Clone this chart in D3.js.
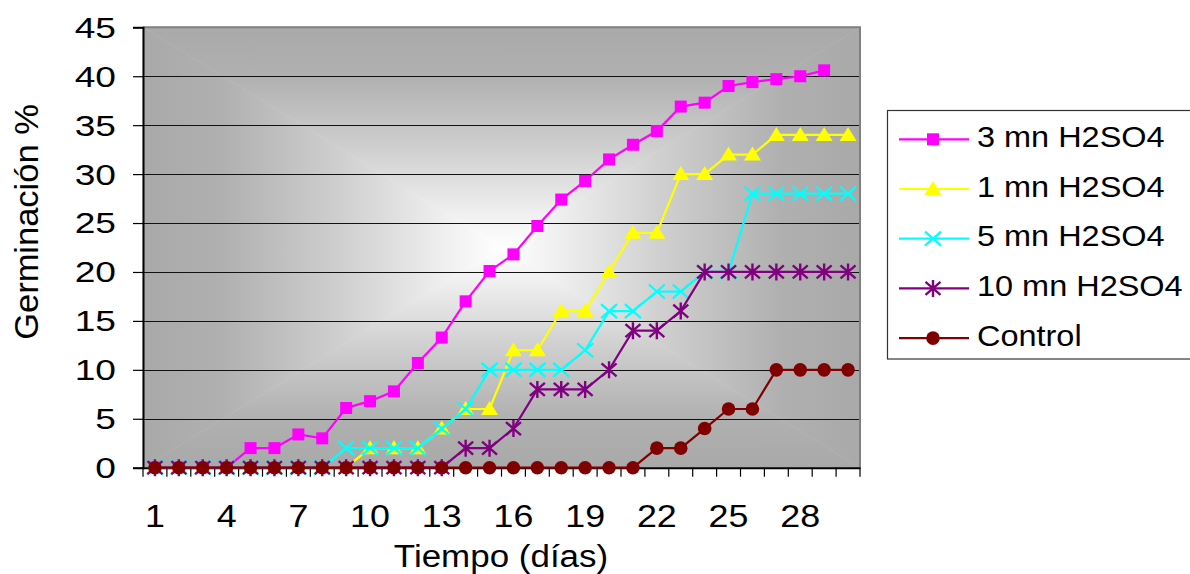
<!DOCTYPE html>
<html>
<head>
<meta charset="utf-8">
<script src="https://cdn.jsdelivr.net/npm/d3@7"></script>
<style>
  html, body { margin: 0; padding: 0; background: #ffffff; }
  svg { display: block; font-family: "Liberation Sans", Arial, sans-serif; }
</style>
</head>
<body>
<svg id="chart" width="1190" height="574"></svg>
<script>
// Germination (%) over time (days) for seeds treated with H2SO4
const days = [1,2,3,4,5,6,7,8,9,10,11,12,13,14,15,16,17,18,19,20,21,22,23,24,25,26,27,28,29,30];
const xTickLabels = [1,4,7,10,13,16,19,22,25,28];
const yTicks = [0,5,10,15,20,25,30,35,40,45];

const h2so4_3mn  = [0,0,0,0,2,2,3.4,3,6.1,6.8,7.8,10.7,13.3,17,20.1,21.8,24.7,27.4,29.3,31.5,33,34.4,36.9,37.3,39,39.4,39.7,40,40.6];
const h2so4_1mn  = [0,0,0,0,0,0,0,0,0,2,2,2,4,6,6,12,12,16,16,20,24,24,30,30,32,32,34,34,34,34];
const h2so4_5mn  = [0,0,0,0,0,0,0,0,2,2,2,2,4,6,10,10,10,10,12,16,16,18,18,20,20,28,28,28,28,28];
const h2so4_10mn = [0,0,0,0,0,0,0,0,0,0,0,0,0,2,2,4,8,8,8,10,14,14,16,20,20,20,20,20,20,20];
const control    = [0,0,0,0,0,0,0,0,0,0,0,0,0,0,0,0,0,0,0,0,0,2,2,4,6,6,10,10,10,10];

const seriesNames = ["3 mn H2SO4", "1 mn H2SO4", "5 mn H2SO4", "10 mn H2SO4", "Control"];
const seriesValues = [h2so4_3mn, h2so4_1mn, h2so4_5mn, h2so4_10mn, control];
const seriesColors = ["#ff00ff", "#ffff00", "#00ffff", "#800080", "#800000"];
const seriesMarkers = ["square", "triangle", "cross", "star", "circle"];

const svg = d3.select("#chart");
const plot = { left: 143, right: 860, top: 27.3, bottom: 467.7 };

const x = d3.scaleBand().domain(days).range([plot.left, plot.right]).paddingInner(0).paddingOuter(0);
const xc = d => x(d) + x.bandwidth() / 2;
const y = d3.scaleLinear().domain([0, 45]).range([plot.bottom, plot.top]);

// --- plot background: rectangular "from centre" gradient built from four triangles
const defs = svg.append("defs");
const cx = (plot.left + plot.right) / 2, cy = (plot.top + plot.bottom) / 2;
const stops = [[0, "#a9a9a9"], [0.22, "#b0b0b0"], [0.55, "#cfcfcf"], [0.85, "#f0f0f0"], [1, "#ffffff"]];
function grad(id, x1, y1, x2, y2) {
  const g = defs.append("linearGradient").attr("id", id)
    .attr("gradientUnits", "userSpaceOnUse")
    .attr("x1", x1).attr("y1", y1).attr("x2", x2).attr("y2", y2);
  stops.forEach(s => g.append("stop").attr("offset", s[0]).attr("stop-color", s[1]));
}
grad("gTop", cx, plot.top, cx, cy);
grad("gBottom", cx, plot.bottom, cx, cy);
grad("gLeft", plot.left, cy, cx, cy);
grad("gRight", plot.right, cy, cx, cy);
const L = plot.left, R = plot.right, T = plot.top, B = plot.bottom;
const bg = svg.append("g");
bg.append("path").attr("d", `M${L},${T}L${R},${T}L${cx},${cy}Z`).attr("fill", "url(#gTop)").attr("stroke", "url(#gTop)").attr("stroke-width", 0.6);
bg.append("path").attr("d", `M${L},${B}L${R},${B}L${cx},${cy}Z`).attr("fill", "url(#gBottom)").attr("stroke", "url(#gBottom)").attr("stroke-width", 0.6);
bg.append("path").attr("d", `M${L},${T}L${L},${B}L${cx},${cy}Z`).attr("fill", "url(#gLeft)").attr("stroke", "url(#gLeft)").attr("stroke-width", 0.6);
bg.append("path").attr("d", `M${R},${T}L${R},${B}L${cx},${cy}Z`).attr("fill", "url(#gRight)").attr("stroke", "url(#gRight)").attr("stroke-width", 0.6);

// horizontal gridlines
svg.append("g").selectAll("line").data(yTicks.filter(v => v > 0 && v < 45)).join("line")
  .attr("x1", L).attr("x2", R)
  .attr("y1", d => Math.round(y(d)) + 0.5).attr("y2", d => Math.round(y(d)) + 0.5)
  .attr("stroke", "#111").attr("stroke-width", 1);

// plot border (top/right) in gray
svg.append("path").attr("d", `M${L},${T}L${R},${T}L${R},${B}`)
  .attr("fill", "none").attr("stroke", "#808080").attr("stroke-width", 2);

// --- axes
const yAxis = d3.axisLeft(y).tickValues(yTicks).tickSize(10).tickFormat("");
svg.append("g").attr("transform", `translate(${L},0)`).call(yAxis)
  .call(g => g.select(".domain").attr("stroke", "#000").attr("stroke-width", 2))
  .call(g => g.selectAll(".tick line").attr("stroke", "#000").attr("stroke-width", 1.2));

const xAxis = d3.axisBottom(x).tickSize(0).tickFormat("");
svg.append("g").attr("transform", `translate(0,${B})`).call(xAxis)
  .call(g => g.select(".domain").attr("stroke", "#000").attr("stroke-width", 2));
// tick marks at the boundaries between days
const bounds = days.map(d => x(d)).concat([R]);
svg.append("g").selectAll("line").data(bounds).join("line")
  .attr("x1", d => d).attr("x2", d => d).attr("y1", B).attr("y2", B + 9)
  .attr("stroke", "#000").attr("stroke-width", 1.2);

// stretched text helper
function stext(parent, str, px, py, size, sx, anchor, rot) {
  return parent.append("text")
    .attr("transform", `translate(${px},${py}) scale(${sx},1)` + (rot ? ` rotate(${rot})` : ""))
    .attr("font-size", size).attr("text-anchor", anchor).attr("fill", "#000").text(str);
}

// y tick labels
const yl = svg.append("g");
yTicks.forEach(v => stext(yl, String(v), 116, y(v) + 10.4, 29, 1.28, "end"));

// x tick labels
const xl = svg.append("g");
xTickLabels.forEach(d => stext(xl, String(d), xc(d), 527, 32, 1.12, "middle"));

// axis titles
stext(svg, "Tiempo (días)", 501, 567, 31.5, 1.11, "middle");
stext(svg, "Germinación %", 37.5, 222, 34.5, 0.95, "middle", -90);

// --- markers
function marker(g, type, color) {
  switch (type) {
    case "square":
      g.append("rect").attr("x", -6).attr("y", -6).attr("width", 12).attr("height", 12).attr("fill", color);
      break;
    case "triangle":
      g.append("path").attr("d", "M0,-8L8.5,6L-8.5,6Z").attr("fill", color);
      break;
    case "cross":
      g.append("path").attr("d", "M-8,-7L8,7M-8,7L8,-7").attr("stroke", color).attr("stroke-width", 2.2).attr("fill", "none");
      break;
    case "star":
      g.append("path").attr("d", "M-7.5,-6.5L7.5,6.5M-7.5,6.5L7.5,-6.5M0,-8.5L0,8.5").attr("stroke", color).attr("stroke-width", 2.4).attr("fill", "none");
      break;
    case "circle":
      g.append("circle").attr("r", 6.8).attr("fill", color);
      break;
  }
}

// --- series
const line = d3.line().x((v, i) => xc(days[i])).y(v => y(v));
seriesValues.forEach((vals, si) => {
  const g = svg.append("g");
  g.append("path").attr("d", line(vals)).attr("fill", "none")
    .attr("stroke", seriesColors[si]).attr("stroke-width", 2.2);
  vals.forEach((v, i) => {
    const m = g.append("g").attr("transform", `translate(${xc(days[i])},${y(v)})`);
    marker(m, seriesMarkers[si], seriesColors[si]);
  });
});

// --- legend
const leg = svg.append("g");
leg.append("rect").attr("x", 887.5).attr("y", 110.5).attr("width", 320).attr("height", 248.5)
  .attr("fill", "#fff").attr("stroke", "#333").attr("stroke-width", 1.2);
seriesNames.forEach((name, i) => {
  const ly = 139.3 + i * 49.7;
  leg.append("line").attr("x1", 899).attr("x2", 969).attr("y1", ly).attr("y2", ly)
    .attr("stroke", seriesColors[i]).attr("stroke-width", 2.2);
  marker(leg.append("g").attr("transform", `translate(933,${ly})`), seriesMarkers[i], seriesColors[i]);
  stext(leg, name, 977, ly + 7.5, 29, 1.12, "start");
});
</script>
</body>
</html>
